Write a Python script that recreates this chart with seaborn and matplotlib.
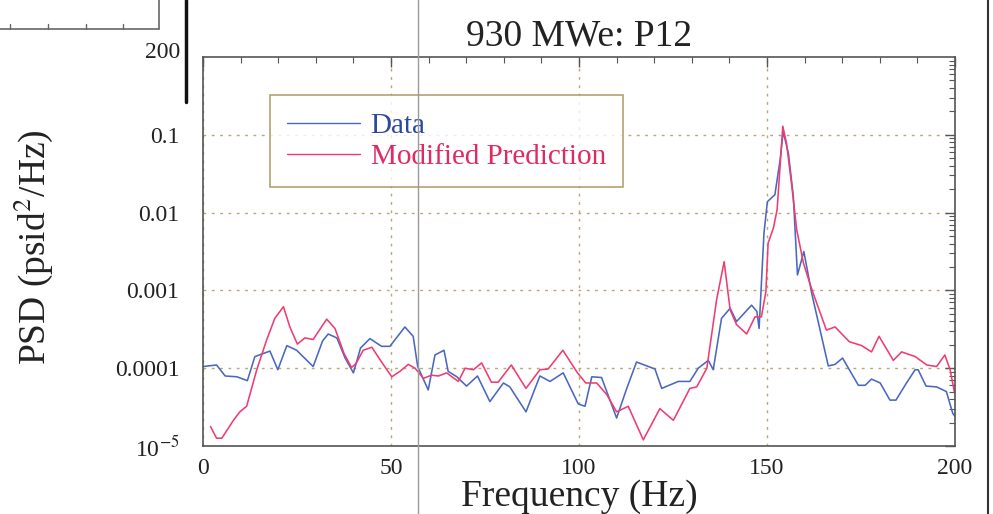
import numpy as np
import pandas as pd
import seaborn as sns
import matplotlib
matplotlib.use("Agg")
import matplotlib.pyplot as plt
from matplotlib.lines import Line2D
from matplotlib.ticker import FixedLocator, LogLocator, MultipleLocator, NullFormatter

# ---------------- data ----------------
data_freq = [0, 3.6, 5.9, 9, 11.8, 13.8, 17.8, 19.9, 22.3, 24.9, 29.3, 31.8, 33.3, 35.6, 37.8,
             40, 41.9, 44.4, 47.5, 49.7, 53.7, 55.9, 57.1, 59.9, 61.7, 64.1, 65.2, 67.5, 70.1,
             73, 76.3, 79.9, 81.6, 85.9, 89.6, 92.3, 95.8, 99.8, 101.6, 103.4, 106, 110, 112.7,
             115.3, 120.2, 122, 126.4, 129.5, 131.7, 134.4, 135.7, 137.9, 140.2, 141.9, 145.9,
             147.3, 147.9, 149.2, 150.1, 152.1, 153.5, 154.3, 155.7, 157, 158.1, 159.8, 161.9,
             166.3, 168.1, 170.1, 171.9, 174.3, 176.1, 177.8, 180.1, 182.7, 184.3, 187.1, 189.4,
             190.2, 192.3, 195.1, 197.7, 199.4, 200]
data_psd = [1.05e-4, 1.10e-4, 7.94e-5, 7.76e-5, 6.92e-5, 1.41e-4, 1.66e-4, 9.55e-5, 1.95e-4,
            1.70e-4, 1.05e-4, 2.24e-4, 2.75e-4, 2.45e-4, 1.35e-4, 8.71e-5, 1.82e-4, 2.40e-4,
            1.91e-4, 1.91e-4, 3.39e-4, 2.57e-4, 1.05e-4, 5.25e-5, 1.48e-4, 1.70e-4, 9.12e-5,
            7.76e-5, 5.89e-5, 7.94e-5, 3.72e-5, 6.46e-5, 5.75e-5, 2.75e-5, 7.94e-5, 6.76e-5,
            8.71e-5, 3.47e-5, 3.24e-5, 7.76e-5, 7.59e-5, 2.29e-5, 5.50e-5, 1.20e-4, 9.77e-5,
            5.50e-5, 6.76e-5, 6.76e-5, 1.00e-4, 1.26e-4, 9.55e-5, 4.37e-4, 5.89e-4, 3.98e-4,
            6.46e-4, 5.37e-4, 3.24e-4, 5.50e-3, 1.38e-2, 1.70e-2, 4.79e-2, 0.110, 5.75e-2,
            1.62e-2, 1.58e-3, 3.16e-3, 9.12e-4, 1.07e-4, 1.12e-4, 1.35e-4, 9.55e-5, 6.03e-5,
            6.03e-5, 7.24e-5, 6.46e-5, 3.89e-5, 3.89e-5, 6.46e-5, 9.55e-5, 9.55e-5, 5.89e-5,
            5.75e-5, 5.01e-5, 2.63e-5, 2.40e-5]

pred_freq = [2, 3.6, 5, 8.1, 9.8, 11.6, 14.3, 16.9, 19.1, 21.4, 23.1, 25.1, 27.1, 29.3, 32.9,
             35.1, 37.5, 39.5, 40.7, 42.6, 44.9, 47.5, 50.2, 52.4, 54.6, 56.4, 58.6, 60.8, 62.6,
             64.8, 67.9, 69.7, 71.9, 74.1, 76.7, 78.5, 82, 85.9, 89.6, 91.8, 95.7, 99.6, 101.8,
             104.7, 107.4, 110, 113.1, 117.1, 121.5, 125.1, 129.5, 131.3, 134, 136.6, 138.6,
             140.2, 141.9, 144.6, 146.8, 148.5, 149.7, 150.3, 151.7, 152.7, 154.2, 155.2, 156.6,
             157.9, 159.7, 161.4, 162.3, 165.8, 168.1, 171.9, 175.2, 177.8, 179.8, 183.6, 185.8,
             189.4, 192.5, 195.1, 197.3, 198.7, 199.9]
pred_psd = [1.78e-5, 1.26e-5, 1.26e-5, 2.14e-5, 2.75e-5, 3.24e-5, 9.55e-5, 2.29e-4, 4.37e-4,
            6.17e-4, 3.39e-4, 2.04e-4, 2.45e-4, 2.34e-4, 4.27e-4, 3.24e-4, 1.55e-4, 1.02e-4,
            1.15e-4, 1.70e-4, 1.86e-4, 1.20e-4, 7.76e-5, 9.12e-5, 1.12e-4, 1.00e-4, 7.41e-5,
            8.13e-5, 7.94e-5, 8.71e-5, 6.76e-5, 1.00e-4, 9.55e-5, 1.17e-4, 6.61e-5, 6.61e-5,
            1.10e-4, 5.50e-5, 9.55e-5, 9.77e-5, 1.70e-4, 8.71e-5, 6.46e-5, 6.46e-5, 4.57e-5,
            2.75e-5, 3.24e-5, 1.20e-5, 3.02e-5, 2.14e-5, 5.50e-5, 5.75e-5, 1.00e-4, 7.59e-4,
            2.34e-3, 5.62e-4, 3.63e-4, 2.75e-4, 4.57e-4, 4.57e-4, 9.55e-4, 4.07e-3, 6.31e-3,
            1.10e-2, 0.129, 7.76e-2, 2.19e-2, 6.03e-3, 2.24e-3, 1.23e-3, 9.12e-4, 3.09e-4,
            3.39e-4, 2.19e-4, 1.95e-4, 1.62e-4, 2.57e-4, 1.26e-4, 1.62e-4, 1.41e-4, 1.10e-4,
            1.05e-4, 1.48e-4, 9.55e-5, 4.79e-5]

series_names = ["Data", "Modified Prediction"]
series_colors = ["#4a68c0", "#ee3d72"]
text_colors = ["#2d4a9a", "#e02a60"]
y_ticks = [1e-5, 1e-4, 1e-3, 1e-2, 1e-1]
y_tick_labels = ["10$^{-5}$", "0.0001", "0.001", "0.01", "0.1"]
x_ticks = [0, 50, 100, 150, 200]
title = "930 MWe: P12"
xlabel = "Frequency (Hz)"
ylabel = "PSD (psid$^2$/Hz)"

# ---------------- figure ----------------
sns.set_theme(style="white")
plt.rcParams['font.family'] = ['Liberation Serif', 'DejaVu Serif']
plt.rcParams['mathtext.fontset'] = 'stix'

fig = plt.figure(figsize=(9.93, 5.14), dpi=100)
fig.patch.set_facecolor("white")
ax = fig.add_axes([203/993, 1-446/514, (955-203)/993, (446-57)/514])

df = pd.concat([
    pd.DataFrame({"f": data_freq, "psd": data_psd, "series": series_names[0]}),
    pd.DataFrame({"f": pred_freq, "psd": pred_psd, "series": series_names[1]}),
], ignore_index=True)

sns.lineplot(data=df, x="f", y="psd", hue="series", hue_order=series_names,
             palette=dict(zip(series_names, series_colors)), estimator=None, sort=False,
             linewidth=1.15, ax=ax, legend=False)

ax.set_yscale("log")
ax.set_xlim(0, 200)
ax.set_ylim(1e-5, 1)

ax.xaxis.set_major_locator(FixedLocator(x_ticks))
ax.xaxis.set_minor_locator(MultipleLocator(10))
ax.set_xticklabels([str(t) for t in x_ticks])
ax.yaxis.set_major_locator(FixedLocator(y_ticks))
ax.set_yticklabels(y_tick_labels)
ax.yaxis.set_minor_locator(LogLocator(base=10, subs=np.arange(2, 10)))
ax.yaxis.set_minor_formatter(NullFormatter())

ax.tick_params(which="both", direction="in", top=True, right=True, colors="#555555",
               labelcolor="#222222")
ax.tick_params(which="major", length=7, width=1)
ax.tick_params(which="minor", length=4, width=0.8)
ax.tick_params(axis="x", pad=9)
ax.tick_params(axis="y", pad=17)

for t in ax.get_xticklabels() + ax.get_yticklabels():
    t.set_fontsize(17)

ax.grid(True, which="major", color="#b8a878", linestyle=(0, (2, 4)), linewidth=1.0)
ax.grid(False, which="minor")
for s in ax.spines.values():
    s.set_color("#555555")
    s.set_linewidth(1.2)

ax.set_title(title, fontsize=27, color="#222222", pad=8)
ax.set_xlabel(xlabel, fontsize=27, color="#222222")
ax.xaxis.set_label_coords(0.5, -0.085)
ax.set_ylabel(ylabel, fontsize=27, color="#222222")
ax.yaxis.set_label_coords(-0.197, 0.51)

handles = [Line2D([], [], color=c, lw=1.0) for c in series_colors]
leg = ax.legend(handles, series_names, loc="upper left", bbox_to_anchor=(0.089, 0.902),
                borderaxespad=0, fontsize=21, frameon=True, fancybox=False,
                handlelength=2.5, handletextpad=0.35, borderpad=0.6, labelspacing=0.15)
leg.get_frame().set_edgecolor("#a08c50")
leg.get_frame().set_linewidth(1.2)
for txt, c in zip(leg.get_texts(), text_colors):
    txt.set_color(c)

# ---------------- scan artifacts around the chart ----------------
def fx(px):
    return px / 993
def fy(py):
    return 1 - py / 514

fig.add_artist(Line2D([fx(418), fx(418)], [fy(0), fy(514)], color="#9a9a9a", lw=1.0))
fig.add_artist(Line2D([fx(988), fx(988)], [fy(0), fy(514)], color="#333333", lw=1.5))
fig.add_artist(Line2D([fx(186), fx(186)], [fy(0), fy(102)], color="#111111", lw=2.5))
fig.add_artist(Line2D([fx(0), fx(159)], [fy(29), fy(29)], color="#666666", lw=1.2))
fig.add_artist(Line2D([fx(159), fx(159)], [fy(0), fy(29)], color="#666666", lw=1.2))
for tx in [10, 48, 86, 123]:
    fig.add_artist(Line2D([fx(tx), fx(tx)], [fy(29), fy(24)], color="#666666", lw=1.0))
fig.text(fx(180), fy(53), "200", ha="right", va="center", fontsize=17, color="#222222")

fig.savefig("out.png", dpi=100, facecolor="white")
